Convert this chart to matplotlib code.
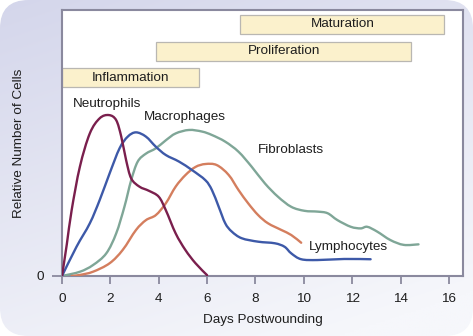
import numpy as np
import matplotlib
matplotlib.use('Agg')
import matplotlib.pyplot as plt
from matplotlib.patches import FancyBboxPatch, Rectangle, PathPatch
from matplotlib.path import Path

plt.rcParams['font.family'] = ['Liberation Sans', 'DejaVu Sans']

# curves (days, relative number)
neut_x = [0, 0.2, 0.4, 0.74, 1.15, 1.56, 1.94, 2.24, 2.45, 2.65, 2.86, 3.2, 3.6, 4.0, 4.29, 4.7, 5.1, 5.52, 6.0]
neut_y = [0, 12, 24.8, 41.1, 53.6, 59.3, 60.5, 58.6, 52.4, 43.6, 36.7, 33.6, 32, 29.8, 24.8, 16, 9.8, 4.8, 0.3]

macro_x = [0, 0.6, 1.15, 1.56, 1.97, 2.38, 2.72, 3.06, 3.47, 3.88, 4.29, 4.84, 5.38, 5.93, 6.2, 6.48, 6.75,
           7.02, 7.43, 8.11, 8.8, 9.2, 9.48, 9.89, 10.57, 11.67, 12.76]
macro_y = [0, 11, 19.8, 28.6, 38.6, 48, 52.4, 54, 52.4, 48.6, 45.5, 43, 39.8, 36, 32.3, 26, 19.8,
           16.7, 14.2, 12.9, 12.3, 11, 8.5, 6.3, 6, 6.4, 6.3]

fibro_x = [0, 0.74, 1.28, 1.83, 2.24, 2.58, 2.86, 3.13, 3.47, 3.88, 4.29, 4.7, 5.25, 5.79, 6.2, 6.75, 7.3,
           7.84, 8.39, 8.93, 9.48, 10.03, 10.57, 10.98, 11.39, 11.94, 12.35, 12.62, 13.03, 13.58, 14.13, 14.74]
fibro_y = [0, 1.6, 4.1, 8.5, 16, 26, 36, 43, 46, 48, 51, 53.6, 54.9, 54.3, 53, 50.5, 46.7,
           41.1, 34.8, 29.8, 26, 24.5, 24.2, 23.6, 21, 18.5, 17.9, 18.5, 16.7, 13.5, 11.7, 11.9]

lymph_x = [0.4, 0.74, 1.28, 1.97, 2.51, 3.06, 3.47, 3.88, 4.29, 4.7, 5.11, 5.52, 5.93, 6.4, 6.89, 7.3,
           7.7, 8.11, 8.52, 9.07, 9.48, 9.89]
lymph_y = [0, 0.4, 1.6, 4.8, 9.8, 17.3, 21, 22.9, 27.3, 33.6, 38, 41, 42.1, 41.7, 38, 32.3,
           27.3, 22.9, 19.8, 17.3, 15.4, 12.5]

# phases: name, start day, end day, bottom, top
phases = ['Inflammation', 'Proliferation', 'Maturation']
phase_start = [0, 3.9, 7.38]
phase_end = [5.66, 14.43, 15.8]
phase_lo = [71, 80.8, 91]
phase_hi = [78.2, 88, 98.1]

xticks = [0, 2, 4, 6, 8, 10, 12, 14, 16]

FS = 9.7
TXT = '#1e1e1e'


def smooth_path(xs, ys):
    # bezier through the read points (catmull-rom handles)
    p = np.column_stack([xs, ys]).astype(float)
    verts = [p[0]]
    codes = [Path.MOVETO]
    n = len(p)
    for i in range(n - 1):
        p0 = p[max(i - 1, 0)]
        p1 = p[i]
        p2 = p[i + 1]
        p3 = p[min(i + 2, n - 1)]
        verts += [p1 + (p2 - p0) / 6, p2 - (p3 - p1) / 6, p2]
        codes += [Path.CURVE4] * 3
    return Path(verts, codes)


fig = plt.figure(figsize=(4.73, 3.36), dpi=100)
fig.patch.set_facecolor('white')

# rounded gradient background
bg = fig.add_axes([0, 0, 1, 1])
bg.set_axis_off()
yy, xx = np.mgrid[0:1:200j, 0:1:200j]
t = np.clip(0.75 * yy + 0.35 * xx, 0, 1)
top = np.array([212, 214, 235]) / 255
bot = np.array([246, 247, 251]) / 255
grad = top[None, None, :] * (1 - t[..., None]) + bot[None, None, :] * t[..., None]
im = bg.imshow(grad, extent=[0, 1, 0, 1], aspect='auto', origin='upper')
clip = FancyBboxPatch((0.0, 0.0), 1.0, 1.0, boxstyle='round,pad=0,rounding_size=0.06',
                      transform=bg.transAxes, facecolor='none', edgecolor='none',
                      mutation_aspect=473 / 336)
bg.add_patch(clip)
im.set_clip_path(clip)
bg.set_xlim(0, 1)
bg.set_ylim(0, 1)

ax = fig.add_axes([62 / 473, 60 / 336, 401 / 473, 266 / 336])
ax.set_facecolor('white')
ax.set_xlim(0, 16.58)
ax.set_ylim(0, 100)

spine_c = '#8a899e'
for s in ax.spines.values():
    s.set_color(spine_c)
    s.set_linewidth(1.5)

for name, a, b, lo, hi in zip(phases, phase_start, phase_end, phase_lo, phase_hi):
    ax.add_patch(Rectangle((a, lo), b - a, hi - lo, facecolor='#fbf1cc', edgecolor='#b9b7b2',
                           linewidth=0.9, zorder=2))
    ax.text((a + b) / 2, (lo + hi) / 2, name, ha='center', va='center', fontsize=FS,
            color=TXT, zorder=3)

lw = 1.7
curves = [(fibro_x, fibro_y, '#7fa697', 4), (lymph_x, lymph_y, '#d47e5e', 4),
          (macro_x, macro_y, '#3d59a8', 5), (neut_x, neut_y, '#7a1f4d', 6)]
for xs, ys, c, z in curves:
    ax.add_patch(PathPatch(smooth_path(xs, ys), facecolor='none', edgecolor=c, lw=lw,
                           capstyle='round', joinstyle='round', zorder=z))

ax.text(0.45, 64.5, 'Neutrophils', fontsize=FS, ha='left', va='center', color=TXT)
ax.text(3.37, 59.8, 'Macrophages', fontsize=FS, ha='left', va='center', color=TXT)
ax.text(8.1, 47.5, 'Fibroblasts', fontsize=FS, ha='left', va='center', color=TXT)
ax.text(10.2, 11, 'Lymphocytes', fontsize=FS, ha='left', va='center', color=TXT)

ax.set_xticks(xticks)
ax.set_xticklabels([str(v) for v in xticks], fontsize=FS, color=TXT)
ax.set_yticks([0])
ax.set_yticklabels(['0'], fontsize=FS, color=TXT)
ax.tick_params(axis='x', direction='out', length=6, width=1.3, color=spine_c, pad=6)
ax.tick_params(axis='y', direction='out', length=7, width=1.3, color=spine_c, pad=6)

ax.set_xlabel('Days Postwounding', fontsize=FS, color=TXT, labelpad=7)
ax.set_ylabel('Relative Number of Cells', fontsize=FS, color=TXT, labelpad=8)

fig.savefig('out.png', dpi=100)
